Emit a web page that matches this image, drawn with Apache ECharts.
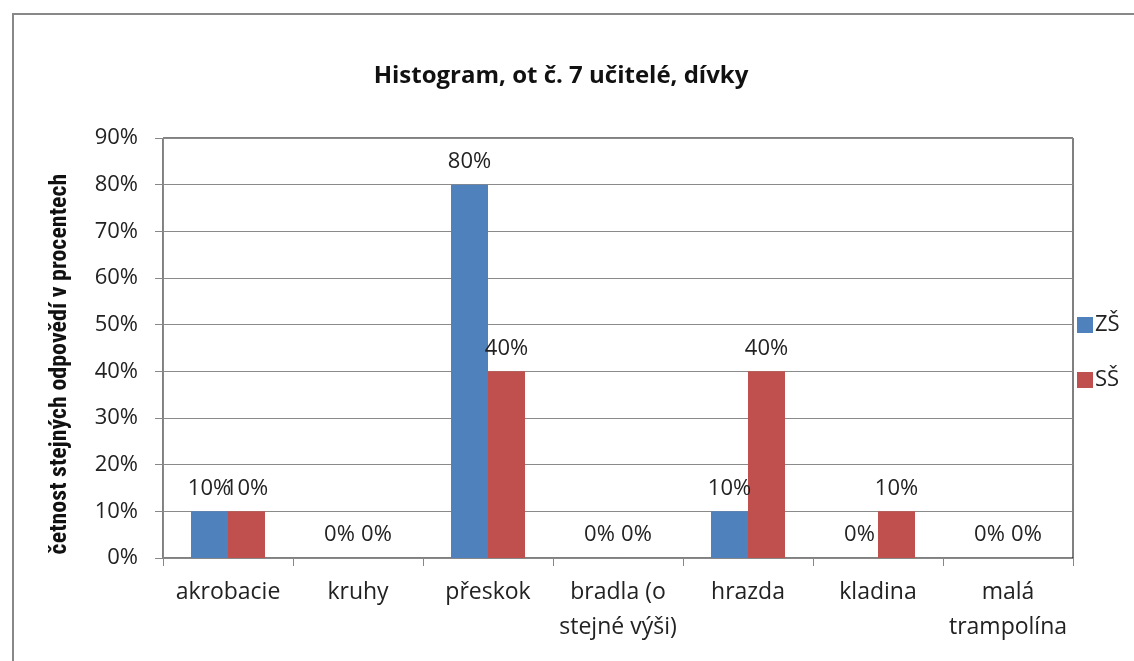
<!DOCTYPE html>
<html>
<head>
<meta charset="utf-8">
<script src="https://cdn.jsdelivr.net/npm/echarts@6/dist/echarts.min.js"></script>
<style>html,body{margin:0;padding:0;background:#fff}#c{width:1134px;height:661px}</style>
</head>
<body>
<div id="c"></div>
<script>
const categories = ['akrobacie', 'kruhy', 'přeskok', 'bradla (o\nstejné výši)', 'hrazda', 'kladina', 'malá\ntrampolína'];
const seriesNames = ['ZŠ', 'SŠ'];
const valuesZS = [10, 0, 80, 0, 10, 0, 0];
const valuesSS = [10, 0, 40, 0, 40, 10, 0];
const yTicks = [0, 10, 20, 30, 40, 50, 60, 70, 80, 90];
const titleText = 'Histogram, ot č. 7 učitelé, dívky';
const yName = 'četnost stejných odpovědí v procentech';

const FONT = '"Open Sans", Lato, sans-serif';
const chart = echarts.init(document.getElementById('c'), null, {renderer: 'canvas'});
const labelCfg = {show: true, position: 'top', distance: 12, formatter: '{c}%', color: '#222', fontSize: 22, fontFamily: FONT};
chart.setOption({
  animation: false,
  backgroundColor: '#fff',
  title: {text: titleText, left: 556, textAlign: 'center', top: 59, textStyle: {fontFamily: FONT, fontWeight: 'bold', fontSize: 24, color: '#111'}},
  legend: {orient: 'vertical', left: 1072, top: 309, itemWidth: 16, itemHeight: 16, itemGap: 33, data: seriesNames,
    icon: 'rect', textStyle: {fontFamily: FONT, fontSize: 22, color: '#222', padding: [0,0,0,-3]}},
  grid: {left: 163, top: 138, right: 61, bottom: 103, show: true, borderColor: '#000', borderWidth: 1, containLabel: false},
  xAxis: {type: 'category', data: categories,
    axisLine: {lineStyle: {color: '#888', width: 1}},
    axisTick: {show: true, length: 8, alignWithLabel: false, interval: 0, lineStyle: {color: '#888'}},
    axisLabel: {interval: 0, margin: 17, fontFamily: FONT, fontSize: 23, color: '#222', lineHeight: 35}},
  yAxis: {type: 'value', min: yTicks[0], max: yTicks[yTicks.length-1], interval: 10,
    axisLine: {show: true, lineStyle: {color: '#888'}},
    axisTick: {show: true, length: 8, inside: false, lineStyle: {color: '#888'}},
    splitLine: {show: true, lineStyle: {color: '#8a8a8a', width: 1}},
    axisLabel: {formatter: '{value}%', margin: 25, fontFamily: FONT, fontSize: 22, color: '#222'}},
  graphic: [
    {type: 'rect', shape: {x: 13, y: 14, width: 1300, height: 800}, style: {fill: 'none', stroke: '#888', lineWidth: 2}, silent: true},
    {type: 'text', x: 60, y: 364, rotation: Math.PI/2, style: {text: yName, fill: '#111', font: 'bold 24px "Liberation Sans Narrow", "Roboto Condensed", "DejaVu Sans Condensed", sans-serif', align: 'center', verticalAlign: 'middle'}}
  ],
  series: [
    {name: seriesNames[0], type: 'bar', data: valuesZS, barWidth: 37, barGap: '0%', itemStyle: {color: '#4F81BD'}, label: labelCfg},
    {name: seriesNames[1], type: 'bar', data: valuesSS, barWidth: 37, barGap: '0%', itemStyle: {color: '#C0504D'}, label: labelCfg}
  ]
});
</script>
</body>
</html>
